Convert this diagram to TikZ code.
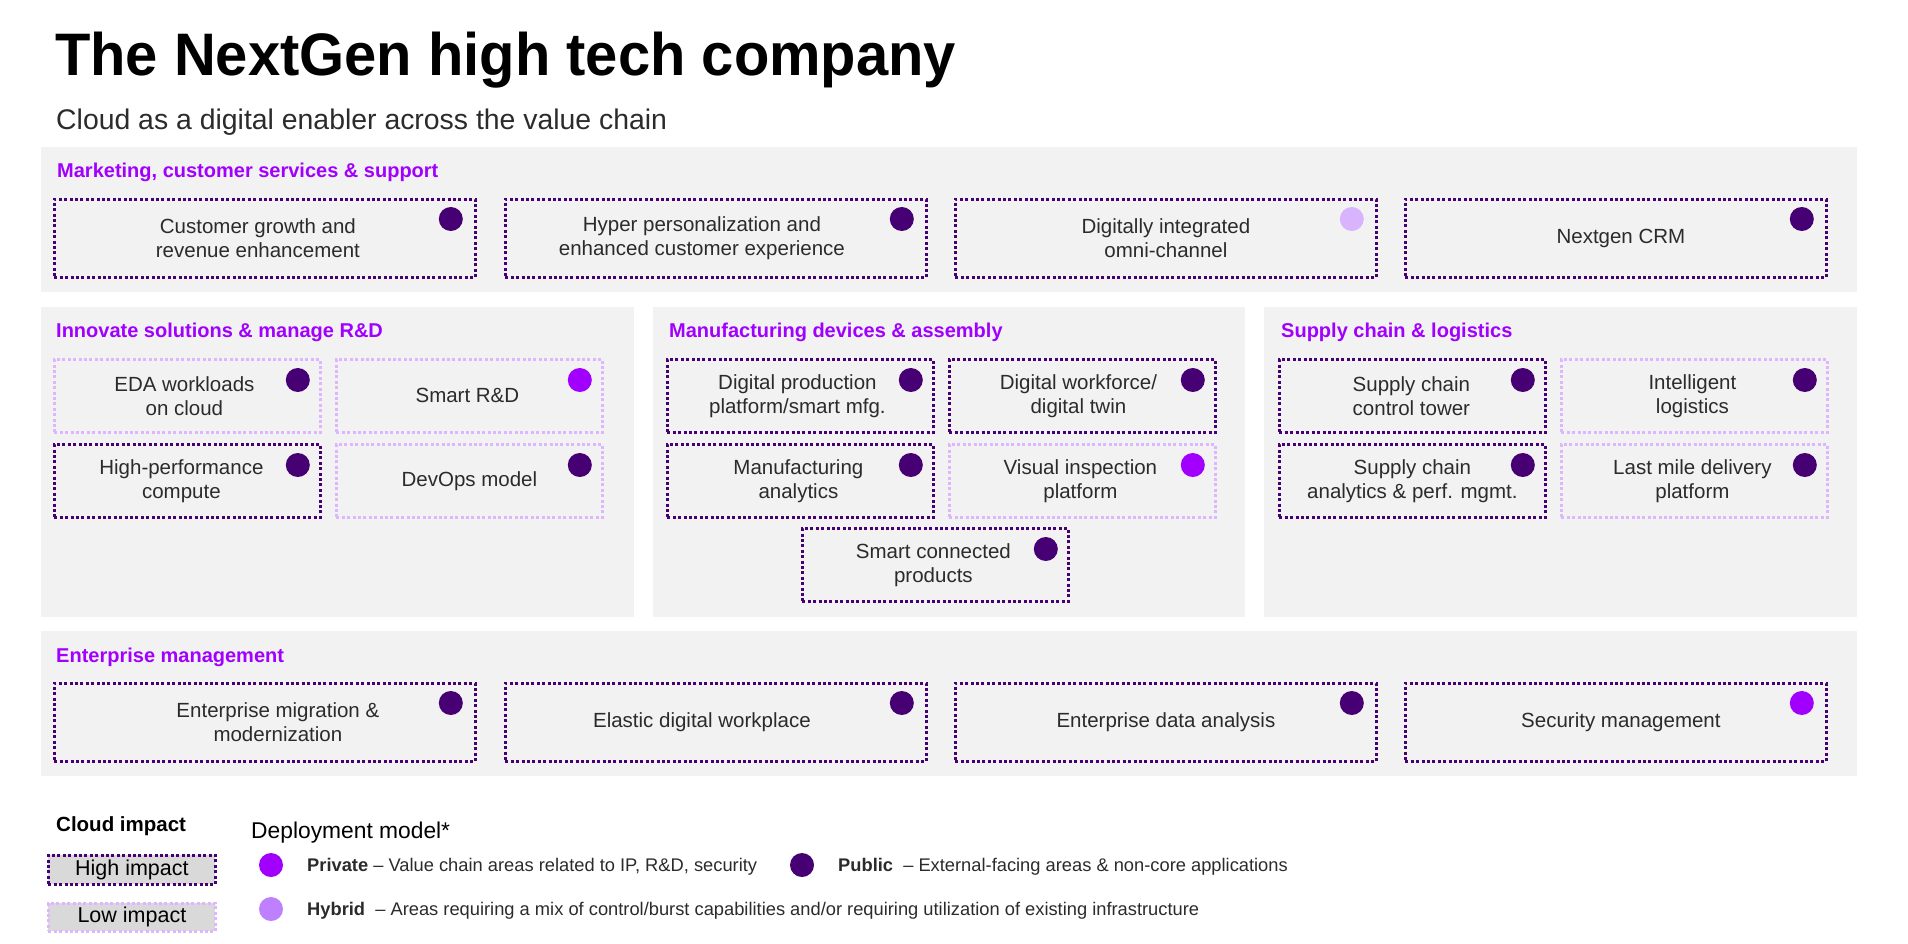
\documentclass[tikz,border=0pt]{standalone}
\usepackage{fontspec}
\setmainfont{Liberation Sans}

\definecolor{vcpurple}{HTML}{A100FF}
\definecolor{vcdark}{HTML}{460073}
\definecolor{vchybrid}{HTML}{BF80FF}
\definecolor{vcpale}{HTML}{D8B4FF}
\definecolor{vclow}{HTML}{DDB6FF}
\definecolor{bandgray}{HTML}{F2F2F2}
\definecolor{keygray}{HTML}{D9D9D9}
\definecolor{inkgray}{HTML}{2B2B2B}

\tikzset{
  band/.style={fill=bandgray, draw=none},
  sectitle/.style={anchor=base west, inner sep=0pt, text=vcpurple,
    font=\bfseries\fontsize{20}{24}\selectfont},
  itembox/.style={rectangle, anchor=north west, inner sep=0pt},
  itemtext/.style={inner sep=0pt, align=center, text=inkgray,
    font=\fontsize{20.5}{24}\selectfont},
  highimpact/.style={draw=vcdark, line width=2.8pt, dash pattern=on 3pt off 2.4pt},
  lowimpact/.style={draw=vclow, line width=2.8pt, dash pattern=on 3pt off 2.4pt},
  depdot/.style={circle, inner sep=0pt, minimum size=24pt, draw=none},
  public/.style={fill=vcdark},
  private/.style={fill=vcpurple},
  hybrid/.style={fill=vchybrid},
  hybridpale/.style={fill=vcpale},
  keytext/.style={anchor=base west, inner sep=0pt, text=inkgray,
    font=\fontsize{18.3}{22}\selectfont},
}

% wide value-chain item: #1 name, #2 x, #3 y, #4 impact, #5 deployment, #6 text shift, #7 text
\newcommand\vcwide[7]{%
  \node[itembox, #4, minimum width=421pt, minimum height=78pt] (#1) at (#2,#3) {};
  \node[itemtext, xshift=#6pt] (#1-text) at (#1.center) {#7};
  \node[depdot, #5, xshift=-26pt, yshift=-21pt] (#1-dot) at (#1.north east) {};
}
% narrow value-chain item, same arguments
\newcommand\vcsmall[7]{%
  \node[itembox, #4, minimum width=266pt, minimum height=73pt] (#1) at (#2,#3) {};
  \node[itemtext, xshift=#6pt] (#1-text) at (#1.center) {#7};
  \node[depdot, #5, xshift=-24pt, yshift=-22pt] (#1-dot) at (#1.north east) {};
}

\begin{document}
\begin{tikzpicture}[x=1pt, y=-1pt]
\useasboundingbox (0,0) rectangle (1908,943);

% title block
\node[anchor=base west, inner sep=0pt, font=\bfseries\fontsize{60}{66}\selectfont]
  (title) at (55,75) {\scalebox{0.965}[1]{The NextGen high tech company}};
\node[anchor=base west, inner sep=0pt, text=inkgray, font=\fontsize{28.4}{34}\selectfont]
  (subtitle) at (56,129) {Cloud as a digital enabler across the value chain};

% section backgrounds
\fill[band] (41,147) rectangle (1857,292);
\fill[band] (41,307) rectangle (634,617);
\fill[band] (653,307) rectangle (1245,617);
\fill[band] (1264,307) rectangle (1857,617);
\fill[band] (41,631) rectangle (1857,776);

% Marketing, customer services & support
\node[sectitle] (mkt) at (57,177) {Marketing, customer services \& support};
\vcwide{m1}{53}{198}{highimpact}{public}{-7}{Customer growth and\\revenue enhancement}
\vcwide{m2}{504}{198}{highimpact}{public}{-14}{Hyper personalization and\\enhanced customer experience}
\vcwide{m3}{954}{198}{highimpact}{hybridpale}{0}{Digitally integrated\\omni-channel}
\vcwide{m4}{1404}{198}{highimpact}{public}{5}{Nextgen CRM}

% Innovate solutions & manage R&D
\node[sectitle] (rnd) at (56,337) {Innovate solutions \& manage R\&D};
\vcsmall{r1}{53}{358}{lowimpact}{public}{-3}{EDA workloads\\on cloud}
\vcsmall{r2}{335}{358}{lowimpact}{private}{-2}{Smart R\&D}
\vcsmall{r3}{53}{443}{highimpact}{public}{-6}{High-performance\\compute}
\vcsmall{r4}{335}{443}{lowimpact}{public}{0}{DevOps model}

% Manufacturing devices & assembly
\node[sectitle] (mfg) at (669,337) {Manufacturing devices \& assembly};
\vcsmall{f1}{666}{358}{highimpact}{public}{-3}{Digital production\\platform/smart mfg.}
\vcsmall{f2}{948}{358}{highimpact}{public}{-4}{Digital workforce/\\digital twin}
\vcsmall{f3}{666}{443}{highimpact}{public}{-2}{Manufacturing\\analytics}
\vcsmall{f4}{948}{443}{lowimpact}{private}{-2}{Visual inspection\\platform}
\vcsmall{f5}{801}{527}{highimpact}{public}{-2}{Smart connected\\products}

% Supply chain & logistics
\node[sectitle] (scl) at (1281,337) {Supply chain \& logistics};
\vcsmall{s1}{1278}{358}{highimpact}{public}{-1}{Supply chain\\control tower}
\vcsmall{s2}{1560}{358}{lowimpact}{public}{-2}{Intelligent\\logistics}
\vcsmall{s3}{1278}{443}{highimpact}{public}{0}{Supply chain\\analytics \& perf. mgmt.}
\vcsmall{s4}{1560}{443}{lowimpact}{public}{-2}{Last mile delivery\\platform}

% Enterprise management
\node[sectitle] (ent) at (56,662) {Enterprise management};
\vcwide{e1}{53}{682}{highimpact}{public}{13}{Enterprise migration \&\\modernization}
\vcwide{e2}{504}{682}{highimpact}{public}{-14}{Elastic digital workplace}
\vcwide{e3}{954}{682}{highimpact}{public}{0}{Enterprise data analysis}
\vcwide{e4}{1404}{682}{highimpact}{private}{5}{Security management}

% legend: cloud impact
\node[anchor=base west, inner sep=0pt, font=\bfseries\fontsize{20.5}{24}\selectfont]
  (impact) at (56,831) {Cloud impact};
\node[rectangle, anchor=north west, inner sep=0pt, fill=keygray, highimpact,
  minimum width=167pt, minimum height=29pt, font=\fontsize{21.5}{24}\selectfont]
  (keyhigh) at (47,854) {High impact};
\node[rectangle, anchor=north west, inner sep=0pt, fill=keygray, lowimpact,
  minimum width=167pt, minimum height=28pt, font=\fontsize{21.5}{24}\selectfont]
  (keylow) at (47,902) {Low impact};

% legend: deployment model
\node[anchor=base west, inner sep=0pt, font=\fontsize{22.8}{26}\selectfont]
  (deploy) at (251,838) {Deployment model*};
\node[depdot, private] (keypriv) at (271,865) {};
\node[keytext] (keyprivtxt) at (307,871) {{\bfseries Private} -- Value chain areas related to IP, R\&D, security};
\node[depdot, public] (keypub) at (802,865) {};
\node[keytext] (keypubtxt) at (838,871) {{\bfseries Public}\ \ -- External-facing areas \& non-core applications};
\node[depdot, hybrid] (keyhyb) at (271,909) {};
\node[keytext] (keyhybtxt) at (307,915) {{\bfseries Hybrid}\ \ -- Areas requiring a mix of control/burst capabilities and/or requiring utilization of existing infrastructure};
\end{tikzpicture}
\end{document}
